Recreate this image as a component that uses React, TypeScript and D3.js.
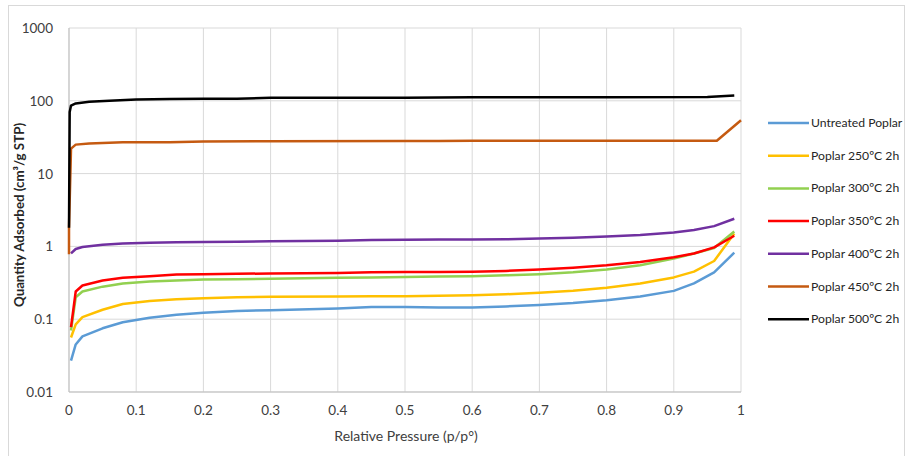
import React from 'react';
import * as d3 from 'd3';

const width = 908;
const height = 456;

// relative pressure points shared by the five lower isotherms
const pressure = [0.003, 0.01, 0.02, 0.05, 0.08, 0.12, 0.16, 0.2, 0.25, 0.3, 0.4, 0.45, 0.5, 0.55, 0.6, 0.65, 0.7, 0.75, 0.8, 0.85, 0.9, 0.93, 0.96, 0.99];
const untreated = [0.027, 0.045, 0.058, 0.075, 0.091, 0.105, 0.115, 0.123, 0.13, 0.133, 0.14, 0.147, 0.147, 0.145, 0.145, 0.15, 0.157, 0.167, 0.182, 0.205, 0.245, 0.31, 0.44, 0.82];
const poplar250 = [0.056, 0.085, 0.107, 0.135, 0.162, 0.178, 0.188, 0.194, 0.2, 0.203, 0.205, 0.206, 0.207, 0.21, 0.213, 0.22, 0.23, 0.245, 0.27, 0.31, 0.375, 0.45, 0.63, 1.5];
const poplar300 = [0.07, 0.2, 0.24, 0.28, 0.31, 0.33, 0.34, 0.35, 0.355, 0.36, 0.37, 0.375, 0.38, 0.385, 0.39, 0.40, 0.415, 0.44, 0.48, 0.55, 0.68, 0.8, 0.95, 1.6];
const poplar350 = [0.078, 0.24, 0.29, 0.34, 0.37, 0.39, 0.41, 0.415, 0.42, 0.425, 0.43, 0.44, 0.445, 0.445, 0.45, 0.46, 0.48, 0.51, 0.55, 0.61, 0.71, 0.8, 0.97, 1.4];
const poplar400 = [0.8, 0.92, 0.98, 1.05, 1.1, 1.12, 1.14, 1.15, 1.16, 1.18, 1.2, 1.22, 1.23, 1.24, 1.24, 1.25, 1.28, 1.31, 1.37, 1.43, 1.55, 1.68, 1.9, 2.4];

const pressure450 = [0, 0, 0.003, 0.01, 0.03, 0.08, 0.15, 0.2, 0.3, 0.5, 0.55, 0.6, 0.8, 0.964, 1.0];
const poplar450 = [0.78, 1.8, 22, 25, 26, 27, 27, 27.5, 27.8, 28, 28, 28.3, 28.3, 28.3, 54];

const pressure500 = [0, 0.001, 0.003, 0.01, 0.03, 0.06, 0.1, 0.15, 0.2, 0.25, 0.3, 0.5, 0.6, 0.8, 0.95, 0.99];
const poplar500 = [1.8, 70, 86, 92, 97, 100, 104, 106, 107, 107, 110, 110, 112, 112, 113, 118];

const seriesNames = ['Untreated Poplar', 'Poplar 250ºC 2h', 'Poplar 300ºC 2h', 'Poplar 350ºC 2h', 'Poplar 400ºC 2h', 'Poplar 450ºC 2h', 'Poplar 500ºC 2h'];
const seriesColors = ['#5B9BD5', '#FFC000', '#92D050', '#FF0000', '#7030A0', '#C55A11', '#000000'];

const xTicks = [0, 0.1, 0.2, 0.3, 0.4, 0.5, 0.6, 0.7, 0.8, 0.9, 1];
const yTicks = [0.01, 0.1, 1, 10, 100, 1000];

const font = 'Lato, "Open Sans", sans-serif';

export default function App() {
  const left = 69, right = 741, top = 28, bottom = 392;
  const x = d3.scaleLinear().domain([0, 1]).range([left, right]);
  const y = d3.scaleLog().domain([0.01, 1000]).range([bottom, top]);

  const series = [
    { p: pressure, v: untreated },
    { p: pressure, v: poplar250 },
    { p: pressure, v: poplar300 },
    { p: pressure, v: poplar350 },
    { p: pressure, v: poplar400 },
    { p: pressure450, v: poplar450 },
    { p: pressure500, v: poplar500 },
  ];

  const line = d3.line<[number, number]>()
    .x(d => x(d[0]))
    .y(d => y(d[1]));

  return (
    <svg width={width} height={height} style={{ position: 'absolute', left: 0, top: 0, background: '#fff' }}>
      <rect x={8.5} y={5.5} width={896} height={460} fill="none" stroke="#d9d9d9" />

      {/* grid */}
      {xTicks.map((t, i) => (
        <line key={'gx' + i} x1={x(t)} x2={x(t)} y1={top} y2={bottom} stroke="#d9d9d9" strokeWidth={1} />
      ))}
      {yTicks.map((t, i) => (
        <line key={'gy' + i} x1={left} x2={right} y1={y(t)} y2={y(t)} stroke="#d9d9d9" strokeWidth={1} />
      ))}
      <line x1={left} x2={left} y1={top} y2={bottom} stroke="#bfbfbf" />
      <line x1={left} x2={right} y1={bottom} y2={bottom} stroke="#bfbfbf" />

      {/* tick labels */}
      {xTicks.map((t, i) => (
        <text key={'tx' + i} x={x(t)} y={bottom + 23} textAnchor="middle" fontFamily={font} fontSize={13.5} fill="#404040">
          {t}
        </text>
      ))}
      {yTicks.map((t, i) => (
        <text key={'ty' + i} x={53} y={y(t) + 5} textAnchor="end" fontFamily={font} fontSize={13.5} fill="#404040">
          {t}
        </text>
      ))}

      <text x={406} y={441} textAnchor="middle" fontFamily={font} fontSize={14} fill="#404040">
        Relative Pressure (p/p°)
      </text>
      <text transform="translate(24, 215) rotate(-90)" textAnchor="middle" fontFamily={font} fontSize={13.3} fontWeight="bold" fill="#262626">
        Quantity Adsorbed (cm³/g STP)
      </text>

      {/* curves */}
      {series.map((s, i) => (
        <path
          key={'s' + i}
          d={line(s.p.map((p, j) => [p, s.v[j]] as [number, number])) || ''}
          fill="none"
          stroke={seriesColors[i]}
          strokeWidth={2.5}
          strokeLinejoin="round"
        />
      ))}

      {/* legend */}
      {seriesNames.map((name, i) => {
        const ly = 123 + i * 32.7;
        return (
          <g key={'l' + i}>
            <line x1={768} x2={809} y1={ly} y2={ly} stroke={seriesColors[i]} strokeWidth={2.5} />
            <text x={811} y={ly + 4} fontFamily={font} fontSize={12.2} fill="#262626">
              {name}
            </text>
          </g>
        );
      })}
    </svg>
  );
}
